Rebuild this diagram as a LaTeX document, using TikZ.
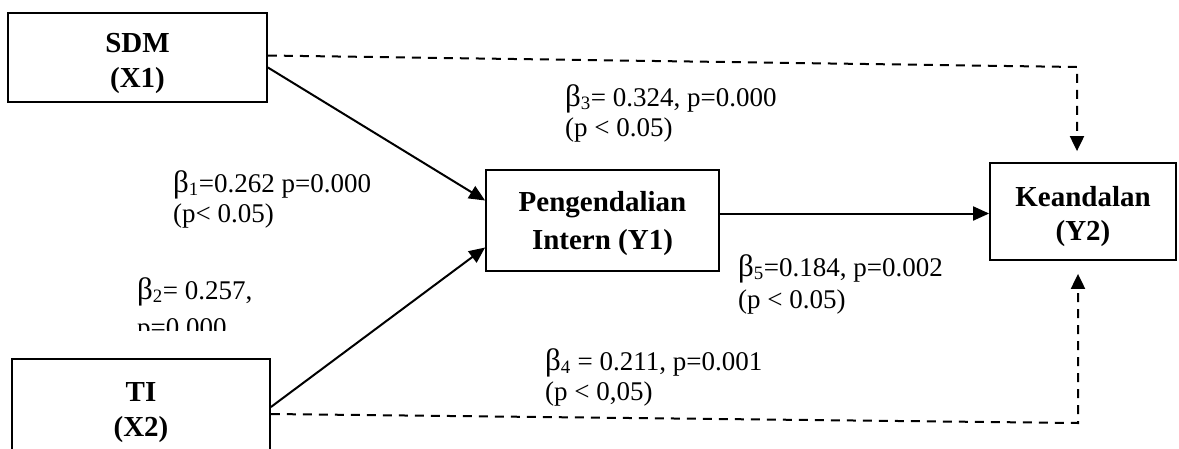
\documentclass[tikz,border=0pt]{standalone}
\usepackage{fontspec}
\setmainfont{Liberation Serif}
\usetikzlibrary{arrows.meta}
\newcommand\boxtxt[2]{\raisebox{-#1}[\height][\depth]{\begin{tabular}{@{}c@{}}#2\end{tabular}}}
\newcommand\bet{{\fontsize{31}{30}\selectfont β}}
\begin{document}
\begin{tikzpicture}[x=1pt,y=-1pt,
  box/.style={draw, line width=1.8pt, inner sep=0pt,
    font=\bfseries\fontsize{29}{35}\selectfont},
  lbl/.style={anchor=north west, inner sep=0pt, align=left,
    font=\fontsize{27}{30}\selectfont},
  arr/.style={line width=2pt, -{Triangle[length=16pt,width=14pt]}},
  dsh/.style={line width=2pt, dash pattern=on 9pt off 7pt, -{Triangle[length=15pt,width=14pt]}}
]
\useasboundingbox (0,0) rectangle (1179,448);
\clip (0,0) rectangle (1179,448);

% boxes
\node[box, minimum width=259pt, minimum height=89pt] (sdm) at (137.5,57.5) {\boxtxt{5pt}{SDM\\(X1)}};
\node[box, minimum width=258pt, minimum height=100pt] (ti) at (141,409) {\boxtxt{3pt}{TI\\(X2)}};
\node[box, minimum width=233pt, minimum height=101pt,
  font=\bfseries\fontsize{29}{38}\selectfont] (pi) at (602.5,220.5) {\boxtxt{2pt}{Pengendalian\\Intern (Y1)}};
\node[box, minimum width=186pt, minimum height=97pt,
  font=\bfseries\fontsize{29}{34}\selectfont] (ke) at (1083,211.5) {\boxtxt{5pt}{Keandalan\\(Y2)}};

% solid arrows
\draw[arr] ([yshift=-10pt]sdm.east) -- ([yshift=20pt]pi.west);
\draw[arr] ([yshift=2pt]ti.east) -- ([yshift=-27pt]pi.west);
\coordinate (ko) at ([yshift=-2pt]ke.west);
\draw[arr] (pi.east |- ko) -- (ko);

% dashed arrows
\coordinate (c1) at (1077,67);
\draw[dsh, shorten >=11pt] ([yshift=2pt]sdm.east) -- (c1) -- (c1 |- ke.north);
\coordinate (c2) at (1078,423);
\draw[dsh, shorten >=13pt] ([yshift=-5pt]ti.east) -- (c2) -- (c2 |- ke.south);

% labels
\node[lbl] (l3) at (565,84) {\bet\textsubscript{3}= 0.324, p=0.000\\(p < 0.05)};
\node[lbl] (l1) at (173,170) {\bet\textsubscript{1}=0.262 p=0.000\\(p< 0.05)};
\begin{scope}
\clip (0,0) rectangle (1179,330);
\node[lbl, font=\fontsize{27}{37}\selectfont] (l2) at (137,277) {\bet\textsubscript{2}= 0.257,\\p=0.000};
\end{scope}
\node[lbl, font=\fontsize{27}{32}\selectfont] (l5) at (738,254) {\bet\textsubscript{5}=0.184, p=0.002\\(p < 0.05)};
\node[lbl] (l4) at (545,348) {\bet\textsubscript{4} = 0.211, p=0.001\\(p < 0,05)};
\end{tikzpicture}
\end{document}
